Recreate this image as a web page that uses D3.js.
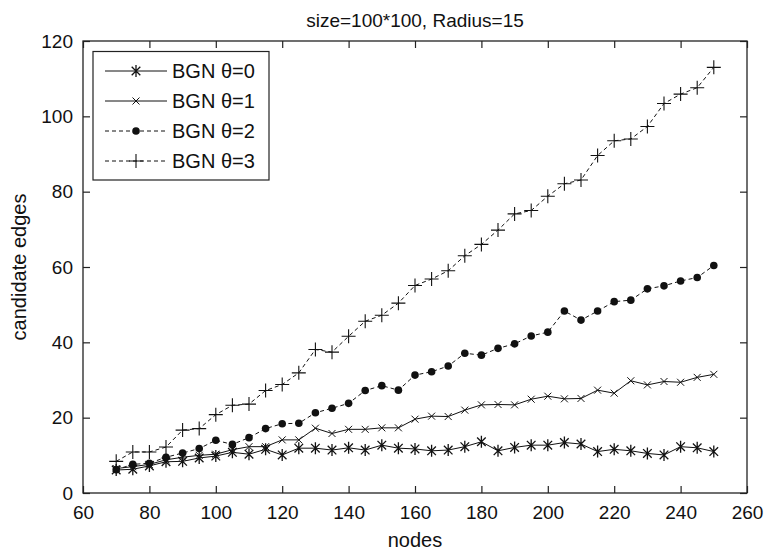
<!DOCTYPE html>
<html><head><meta charset="utf-8">
<script src="https://cdn.jsdelivr.net/npm/d3@7"></script>
<style>
body{margin:0;background:#fff;}
text{font-family:"Liberation Sans",Arial,sans-serif;fill:#111;}
</style></head>
<body><svg id="c" width="766" height="551"></svg>
<script>
const nodes = [70,75,80,85,90,95,100,105,110,115,120,125,130,135,140,145,150,155,160,165,170,175,180,185,190,195,200,205,210,215,220,225,230,235,240,245,250];
const theta0 = [6.1,6.3,7.2,8.3,8.4,9.3,9.8,10.8,10.3,11.6,10.1,11.9,11.9,11.4,12.0,11.4,12.7,11.9,11.7,11.2,11.4,12.3,13.6,11.2,12.1,12.7,12.7,13.4,13.0,11.0,11.6,11.2,10.5,10.1,12.3,12.0,11.0];
const theta1 = [6.5,7.0,7.6,8.8,9.5,10.0,10.3,11.5,12.3,12.3,14.1,14.1,17.2,15.8,16.9,16.9,17.3,17.3,19.6,20.4,20.3,22.0,23.4,23.5,23.4,24.9,25.7,25.0,25.1,27.3,26.5,29.8,28.7,29.6,29.4,30.7,31.5];
const theta2 = [6.2,7.6,7.9,9.5,10.6,11.8,14.0,12.9,14.7,17.1,18.4,18.5,21.3,22.5,23.8,27.2,28.5,27.3,31.3,32.2,33.7,37.1,36.6,38.4,39.6,41.7,42.7,48.3,45.9,48.3,50.8,51.2,54.2,55.0,56.3,57.2,60.4];
const theta3 = [8.4,10.9,10.9,12.2,16.7,17.1,20.8,23.3,23.6,27.2,28.8,31.9,38.1,37.4,41.6,45.6,47.2,50.4,55.1,56.8,59.0,63.0,66.0,69.8,74.1,75.0,78.8,82.1,83.1,89.6,93.5,94.0,97.3,103.4,105.9,107.6,113.0];
const seriesNames = ["BGN θ=0","BGN θ=1","BGN θ=2","BGN θ=3"];
const xTicks = [60,80,100,120,140,160,180,200,220,240,260];
const yTicks = [0,20,40,60,80,100,120];
const titleText = "size=100*100, Radius=15";
const xLabel = "nodes", yLabel = "candidate edges";

const svg = d3.select("#c");
const L=83,R=747,T=41,B=493;
const x = d3.scaleLinear().domain([60,260]).range([L,R]);
const y = d3.scaleLinear().domain([0,120]).range([B,T]);

const ink="#111";
function marker(g, type, cx, cy){
  if(type==="star"){
    const s=6, d=4.3;
    g.append("path").attr("d",`M${cx},${cy-s}V${cy+s}M${cx-d},${cy-d}L${cx+d},${cy+d}M${cx-d},${cy+d}L${cx+d},${cy-d}`)
     .attr("stroke",ink).attr("stroke-width",1.3).attr("fill","none");
  } else if(type==="x"){
    const d=3.5;
    g.append("path").attr("d",`M${cx-d},${cy-d}L${cx+d},${cy+d}M${cx-d},${cy+d}L${cx+d},${cy-d}`)
     .attr("stroke",ink).attr("stroke-width",1).attr("fill","none");
  } else if(type==="dot"){
    g.append("circle").attr("cx",cx).attr("cy",cy).attr("r",3.8).attr("fill",ink);
  } else {
    const s=7;
    g.append("path").attr("d",`M${cx},${cy-s}V${cy+s}M${cx-s},${cy}H${cx+s}`)
     .attr("stroke",ink).attr("stroke-width",1.1).attr("fill","none");
  }
}
const series = [
  {name:seriesNames[0], vals:theta0, m:"star", dash:null},
  {name:seriesNames[1], vals:theta1, m:"x", dash:null},
  {name:seriesNames[2], vals:theta2, m:"dot", dash:"4,3"},
  {name:seriesNames[3], vals:theta3, m:"plus", dash:"4,3"}
];

svg.append("rect").attr("x",L).attr("y",T).attr("width",R-L).attr("height",B-T)
  .attr("fill","none").attr("stroke","#222").attr("stroke-width",1.3);

const xa = d3.axisBottom(x).tickValues(xTicks).tickSize(-7).tickPadding(13).tickFormat(d3.format("d"));
const xat = d3.axisTop(x).tickValues(xTicks).tickSize(-7).tickFormat("");
const ya = d3.axisLeft(y).tickValues(yTicks).tickSize(-7).tickPadding(10).tickFormat(d3.format("d"));
const yar = d3.axisRight(y).tickValues(yTicks).tickSize(-7).tickFormat("");
function styleAxis(g){
  g.select(".domain").remove();
  g.selectAll(".tick line").attr("stroke","#222").attr("stroke-width",1.2);
  g.selectAll(".tick text").attr("font-size",19).attr("font-family","Liberation Sans, Arial, sans-serif").attr("fill","#111");
}
svg.append("g").attr("transform",`translate(0,${B})`).call(xa).call(styleAxis);
svg.append("g").attr("transform",`translate(0,${T})`).call(xat).call(styleAxis);
svg.append("g").attr("transform",`translate(${L},0)`).call(ya).call(styleAxis);
svg.append("g").attr("transform",`translate(${R},0)`).call(yar).call(styleAxis);

const line = d3.line().x(d=>x(d[0])).y(d=>y(d[1]));
series.forEach(s=>{
  const pts = nodes.map((n,i)=>[n,s.vals[i]]);
  svg.append("path").datum(pts).attr("d",line).attr("fill","none")
    .attr("stroke",ink).attr("stroke-width",1).attr("stroke-dasharray",s.dash);
  const mg = svg.append("g");
  pts.forEach(p=>marker(mg,s.m,x(p[0]),y(p[1])));
});

const lg = svg.append("g");
lg.append("rect").attr("x",93).attr("y",51.5).attr("width",176).attr("height",128.5)
  .attr("fill","#fff").attr("stroke","#222").attr("stroke-width",1.2);
series.forEach((s,i)=>{
  const ly = 71 + i*30;
  lg.append("line").attr("x1",105).attr("x2",167).attr("y1",ly).attr("y2",ly)
    .attr("stroke",ink).attr("stroke-width",1).attr("stroke-dasharray",s.dash);
  marker(lg,s.m,136,ly);
  lg.append("text").attr("x",172).attr("y",ly).attr("dy","0.35em").attr("font-size",20).text(s.name);
});

svg.append("text").attr("x",(L+R)/2).attr("y",27).attr("text-anchor","middle").attr("font-size",19).text(titleText);
svg.append("text").attr("x",(L+R)/2).attr("y",547).attr("text-anchor","middle").attr("font-size",20).text(xLabel);
svg.append("text").attr("transform",`translate(26,${(T+B)/2}) rotate(-90)`).attr("text-anchor","middle").attr("font-size",20).text(yLabel);
</script></body></html>
